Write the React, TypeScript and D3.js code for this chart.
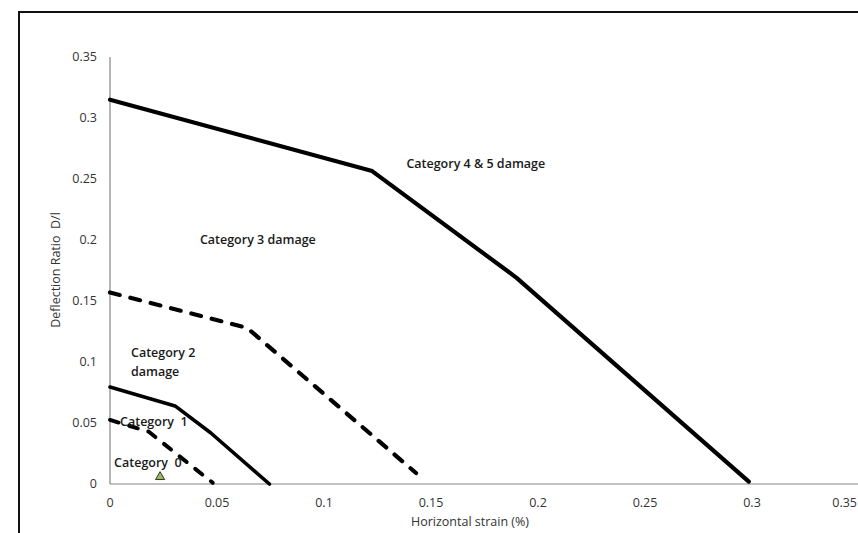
import React from "react";
import * as d3 from "d3";

const xTicks = [0, 0.05, 0.1, 0.15, 0.2, 0.25, 0.3, 0.35];
const yTicks = [0, 0.05, 0.1, 0.15, 0.2, 0.25, 0.3, 0.35];

// boundary lines [strain %, deflection ratio]
const cat45Line: [number, number][] = [[0, 0.315], [0.1225, 0.2565], [0.19, 0.169], [0.2985, 0.002]];
const cat3Line: [number, number][] = [[0, 0.157], [0.064, 0.128], [0.143, 0.009]];
const cat2Line: [number, number][] = [[0, 0.0795], [0.0304, 0.064], [0.047, 0.042], [0.0745, 0]];
const cat1Line: [number, number][] = [[0, 0.0525], [0.018, 0.043], [0.048, 0.001]];
const markerPoint: [number, number] = [0.0234, 0.005];

const labels = [
  { text: "Category 4 & 5 damage", x: 0.1385, y: 0.2625 },
  { text: "Category 3 damage", x: 0.042, y: 0.2006 },
  { text: "Category 2", x: 0.0098, y: 0.1074 },
  { text: "damage", x: 0.0098, y: 0.0918 },
  { text: "Category  1", x: 0.0047, y: 0.0508 },
  { text: "Category  0", x: 0.0019, y: 0.0172 },
];

const W = 858;
const H = 533;

export default function App() {
  const x = d3.scaleLinear().domain([0, 0.35]).range([110, 859]);
  const y = d3.scaleLinear().domain([0, 0.35]).range([484, 57]);
  const line = d3.line<[number, number]>().x((d) => x(d[0])).y((d) => y(d[1]));
  const font = "'Open Sans', 'Liberation Sans', sans-serif";
  const tri = d3.symbol().type(d3.symbolTriangle).size(36)();

  return (
    <svg
      width={W}
      height={H}
      style={{ position: "absolute", left: 0, top: 0, background: "#fff" }}
      fontFamily={font}
    >
      <rect x={0} y={0} width={W} height={H} fill="#fff" />
      {/* outer frame */}
      <rect x={19} y={12} width={W + 20} height={H + 20} fill="none" stroke="#111" strokeWidth={2} />
      {/* axes */}
      <line x1={x(0)} x2={x(0.35)} y1={y(0)} y2={y(0)} stroke="#868686" strokeWidth={1.2} />
      <line x1={x(0)} x2={x(0)} y1={y(0)} y2={y(0.35)} stroke="#868686" strokeWidth={1.2} />
      {yTicks.map((t) => (
        <text key={"y" + t} x={97} y={y(t)} dy="0.35em" textAnchor="end" fontSize={12.5} fill="#333">
          {String(t)}
        </text>
      ))}
      {xTicks.map((t, i) => {
        const last = i === xTicks.length - 1;
        return (
          <text
            key={"x" + t}
            x={last ? 857 : x(t)}
            y={503}
            dy="0.35em"
            textAnchor={last ? "end" : "middle"}
            fontSize={12.5}
            fill="#333"
          >
            {String(t)}
          </text>
        );
      })}
      <text x={470} y={522} dy="0.35em" textAnchor="middle" fontSize={12.5} fill="#333">
        Horizontal strain (%)
      </text>
      <text
        transform={`translate(56,270) rotate(-90)`}
        dy="0.35em"
        textAnchor="middle"
        fontSize={12.5}
        fill="#333"
        style={{ whiteSpace: "pre" }}
      >
        Deflection Ratio  D/l
      </text>
      {/* boundary lines */}
      <path d={line(cat45Line) || ""} fill="none" stroke="#000" strokeWidth={4.2} strokeLinejoin="round" strokeLinecap="round" />
      <path d={line(cat3Line) || ""} fill="none" stroke="#000" strokeWidth={4.2} strokeDasharray="10 11" strokeLinecap="round" />
      <path d={line(cat2Line) || ""} fill="none" stroke="#000" strokeWidth={3.6} strokeLinejoin="round" strokeLinecap="round" />
      <path d={line(cat1Line) || ""} fill="none" stroke="#000" strokeWidth={4} strokeDasharray="9 11" strokeLinecap="round" />
      {/* labels */}
      {labels.map((l) => (
        <text key={l.text} x={x(l.x)} y={y(l.y)} dy="0.35em" fontSize={12.5} fontWeight={600} fill="#1a1a1a" style={{ whiteSpace: "pre" }}>
          {l.text}
        </text>
      ))}
      <path d={tri || ""} transform={`translate(${x(markerPoint[0])},${y(markerPoint[1]) - 1})`} fill="#9bbb59" stroke="#333" strokeWidth={1} />
    </svg>
  );
}
